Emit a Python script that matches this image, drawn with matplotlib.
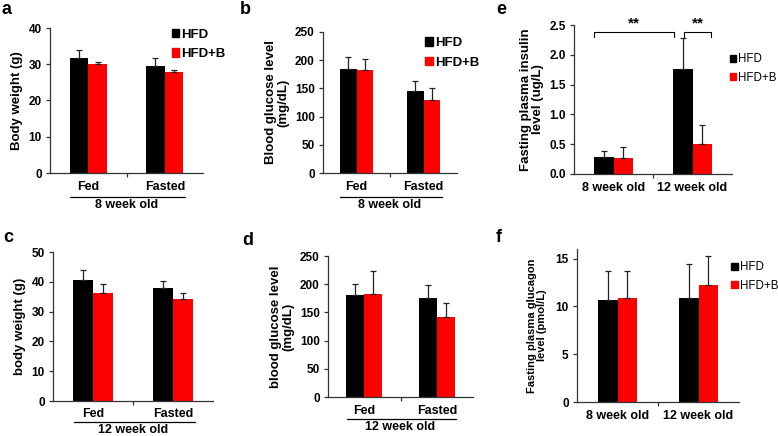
import matplotlib
matplotlib.use("Agg")
import matplotlib.pyplot as plt
from matplotlib.patches import Patch
from matplotlib.transforms import offset_copy, blended_transform_factory
import numpy as np

plt.rcParams['font.family'] = ['Liberation Sans', 'DejaVu Sans']
plt.rcParams['font.weight'] = 'bold'

W, H = 778, 436
BLACK = '#000000'
RED = '#ff0000'

# ---- data ----
groups_fed = ['Fed', 'Fasted']
groups_age = ['8 week old', '12 week old']
series = ['HFD', 'HFD+B']

# a: body weight, 8 week old
bw8_mean = [[31.7, 29.4], [30.2, 27.8]]
bw8_err = [[2.2, 2.2], [0.5, 0.5]]
# b: blood glucose, 8 week old
bg8_mean = [[184, 145], [183, 130]]
bg8_err = [[22, 18], [19, 21]]
# c: body weight, 12 week old
bw12_mean = [[40.7, 37.9], [36.4, 34.2]]
bw12_err = [[3.3, 2.3], [2.7, 2.0]]
# d: blood glucose, 12 week old
bg12_mean = [[181, 175], [183, 142]]
bg12_err = [[19, 23], [40, 25]]
# e: fasting insulin
ins_mean = [[0.29, 1.77], [0.27, 0.50]]
ins_err = [[0.10, 0.51], [0.18, 0.32]]
# f: fasting glucagon
glu_mean = [[10.7, 10.9], [10.9, 12.2]]
glu_err = [[3.0, 3.5], [2.8, 3.1]]

fig = plt.figure(figsize=(W / 100, H / 100), dpi=100)


def px_axes(l, t, r, b):
    return fig.add_axes([l / W, 1 - b / H, (r - l) / W, (b - t) / H])


def bar_panel(ax, means, errs, ylim, yticks, ylabel, ylabel_size=9.5, labelpad=4):
    w = 0.245
    x = np.arange(2)
    for i, (m, e, c) in enumerate(zip(means, errs, [BLACK, RED])):
        xs = x - w / 2 + i * w
        ax.bar(xs, m, width=w, color=c, zorder=2)
        ax.errorbar(xs, m, yerr=[np.zeros(2), e], fmt='none', ecolor='#222222',
                    elinewidth=0.9, capsize=2.2, capthick=0.9, zorder=3)
    ax.set_xlim(-0.5, 1.5)
    ax.set_ylim(*ylim)
    ax.set_yticks(yticks)
    ax.set_xticks([0.5])
    ax.set_xticklabels([''])
    for s in ['top', 'right']:
        ax.spines[s].set_visible(False)
    for s in ['left', 'bottom']:
        ax.spines[s].set_linewidth(0.9)
        ax.spines[s].set_color('#333333')
    ax.tick_params(axis='y', length=3, width=0.9, labelsize=8.5, pad=3, color='#333333')
    ax.tick_params(axis='x', length=3, width=0.9, color='#333333')
    for lab in ax.get_yticklabels():
        lab.set_fontweight('bold')
    ax.set_ylabel(ylabel, fontsize=ylabel_size, fontweight='bold', labelpad=labelpad,
                  linespacing=1.0)
    return w


def cat_labels(ax, labels, under=None, offs=(-14, -24, -32)):
    trans = blended_transform_factory(ax.transData, ax.transAxes)
    t1 = offset_copy(trans, fig=fig, y=offs[0], units='dots')
    for xi, lab in enumerate(labels):
        ax.text(xi, 0, lab, transform=t1, ha='center', va='center',
                fontsize=9, fontweight='bold')
    if under:
        t2 = offset_copy(trans, fig=fig, y=offs[1], units='dots')
        ax.plot([-0.24, 1.27], [0, 0], transform=t2, color='black', lw=0.9, clip_on=False)
        t3 = offset_copy(trans, fig=fig, y=offs[2], units='dots')
        ax.text(0.5, 0, under, transform=t3, ha='center', va='center',
                fontsize=9, fontweight='bold')


def legend(ax, x, y, bold, size=9.5):
    handles = [Patch(color=BLACK), Patch(color=RED)]
    leg = ax.legend(handles, series, loc='upper left', bbox_to_anchor=(x, y),
                    frameon=False, handlelength=0.6, handleheight=0.6,
                    handletextpad=0.15, labelspacing=0.55, borderaxespad=0,
                    prop={'weight': 'bold' if bold else 'normal', 'size': size})
    return leg


# a
ax = px_axes(50, 28, 203, 173)
bar_panel(ax, bw8_mean, bw8_err, (0, 40), [0, 10, 20, 30, 40], 'Body weight (g)')
cat_labels(ax, groups_fed, '8 week old')
legend(ax, 0.76, 1.03, True)

# b
ax = px_axes(323, 32, 457, 173)
bar_panel(ax, bg8_mean, bg8_err, (0, 250), [0, 50, 100, 150, 200, 250],
          'Blood glucose level\n(mg/dL)')
cat_labels(ax, groups_fed, '8 week old')
legend(ax, 0.72, 1.0, True)

# e
ax = px_axes(574, 25, 732, 174)
w = bar_panel(ax, ins_mean, ins_err, (0, 2.5), [0, 0.5, 1.0, 1.5, 2.0, 2.5],
              'Fasting plasma insulin\nlevel (ug/L)')
ax.set_yticklabels(['0.0', '0.5', '1.0', '1.5', '2.0', '2.5'], fontweight='bold')
cat_labels(ax, groups_age)
legend(ax, 0.955, 0.84, False, size=8.3)
yb, drop = 2.38, 0.08
xa0, xa1 = -w, 1 - w + 0.01
ax.plot([xa0, xa0, xa1, xa1], [yb - drop, yb, yb, yb - drop], color='black', lw=0.8, clip_on=False)
ax.text((xa0 + xa1) / 2, yb + 0.02, '**', ha='center', va='bottom', fontsize=11, fontweight='bold')
xb0, xb1 = 1 - w / 2 + 0.02, 1 + w * 0.95
ax.plot([xb0, xb0, xb1, xb1], [yb - drop, yb, yb, yb - drop], color='black', lw=0.8, clip_on=False)
ax.text((xb0 + xb1) / 2, yb + 0.02, '**', ha='center', va='bottom', fontsize=11, fontweight='bold')

# c
ax = px_axes(53, 252, 213, 401)
bar_panel(ax, bw12_mean, bw12_err, (0, 50), [0, 10, 20, 30, 40, 50], 'body weight (g)')
cat_labels(ax, groups_fed, '12 week old', offs=(-13, -21, -29))

# d
ax = px_axes(328, 256, 473, 397)
bar_panel(ax, bg12_mean, bg12_err, (0, 250), [0, 50, 100, 150, 200, 250],
          'blood glucose level\n(mg/dL)')
cat_labels(ax, groups_fed, '12 week old', offs=(-14, -22, -30))

# f
ax = px_axes(577, 249, 739, 402)
bar_panel(ax, glu_mean, glu_err, (0, 16), [0, 5, 10, 15],
          'Fasting plasma glucagon\nlevel (pmol/L)', ylabel_size=8, labelpad=6)
cat_labels(ax, groups_age)
legend(ax, 0.925, 0.95, False, size=8.3)

# panel letters
for letter, (lx, ly) in {'a': (2, 9), 'b': (240, 9), 'e': (496, 9),
                         'c': (3, 238), 'd': (242, 240), 'f': (496, 238)}.items():
    fig.text(lx / W, 1 - ly / H, letter, fontsize=13, fontweight='bold',
             ha='left', va='center')

fig.savefig('out.png', dpi=100)
